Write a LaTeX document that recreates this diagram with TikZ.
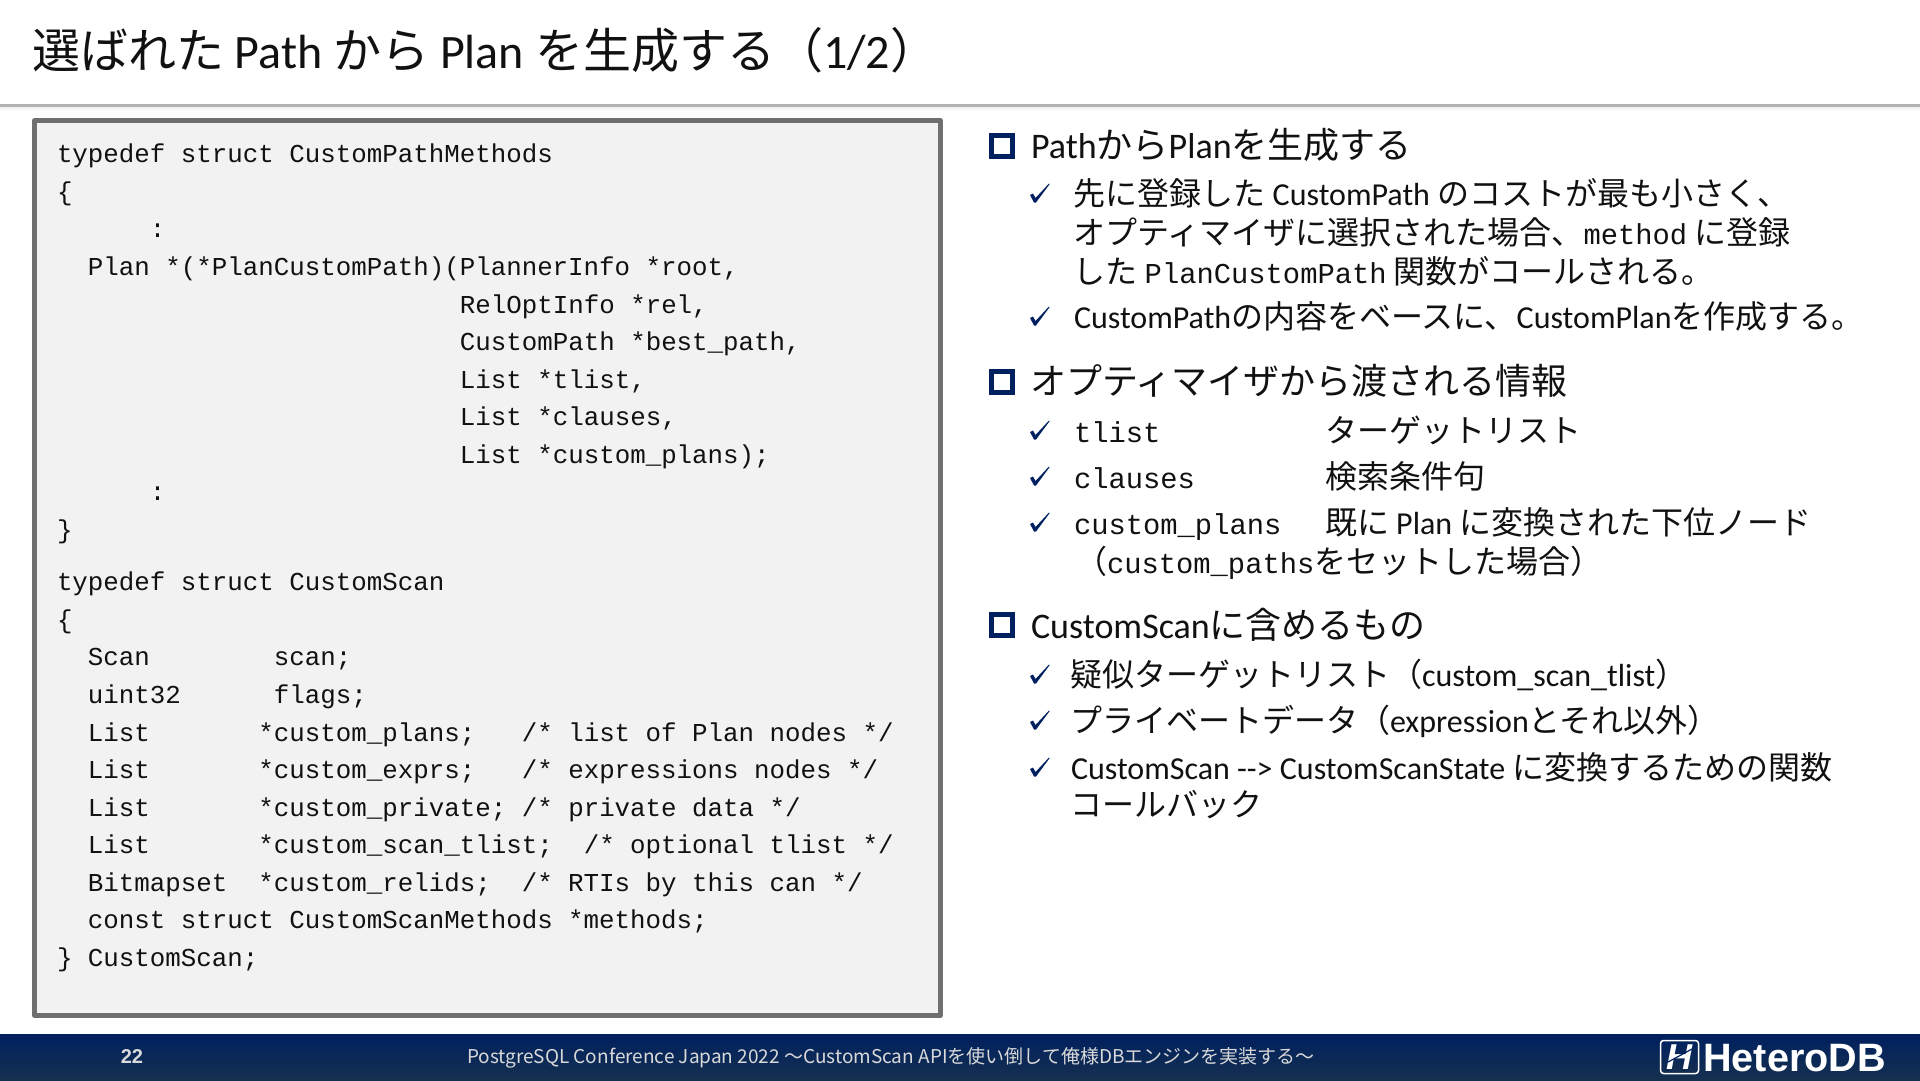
\documentclass[tikz,border=0pt]{standalone}
\usepackage{fontspec}
\setmainfont{Carlito}
\newfontfamily\jpf{Noto Sans CJK JP}
\newfontfamily\monof{Liberation Mono}
\newfontfamily\logof{Liberation Sans}
\newcommand\J[1]{{\jpf #1}}
\newcommand\M[1]{{\monof\fontsize{28.8}{30}\selectfont #1}}
\definecolor{navy}{HTML}{002060}
\definecolor{navyb}{HTML}{15304F}
\definecolor{txt}{HTML}{111111}
\definecolor{boxfill}{HTML}{F2F2F2}
\definecolor{boxline}{HTML}{6F6F6F}
\tikzset{
  tl/.style={anchor=base west,inner sep=0pt,outer sep=0pt,text=txt},
  titletxt/.style={tl,font=\fontsize{48}{50}\selectfont},
  headtxt/.style={tl,font=\fontsize{36}{38}\selectfont},
  subtxt/.style={tl,font=\fontsize{32}{34}\selectfont},
  codetxt/.style={tl,font=\monof\fontsize{25.82}{28}\selectfont},
  footertxt/.style={anchor=base,inner sep=0pt,text=black!15!white},
  sqb/.style={draw=navy,line width=5pt,fill=white},
  chkm/.style={fill=navy,draw=none},
}
\newcommand\sqbul[1]{\draw[sqb] (991.5,#1+2.5) rectangle (1012.5,#1+23.5);}
\newcommand\chk[1]{\fill[chkm,shift={(1040,#1)}] (-10,2)--(-7,0.5)--(-4.5,5)--(9,-9.5)--(9.7,-9)--(-4,9.5)--(-6,9.5)--cycle;}
\begin{document}
\begin{tikzpicture}[x=1pt,y=-1pt]
\useasboundingbox (0,0) rectangle (1920,1080);
\fill[white] (0,0) rectangle (1920,1080);
% header
\shade[top color=black!6,bottom color=white] (0,106.5) rectangle (1920,111);
\fill[black!30] (0,104) rectangle (1920,106.5);
\node[titletxt] (title) at (32,68) {\J{選ばれた} Path \J{から} Plan \J{を生成する（}1/2\J{）}};
% code box
\draw[boxline,fill=boxfill,line width=4.5pt,line join=round] (34.5,120.5) rectangle (940.5,1015.5);
\node[codetxt] (c1) at (57,162.5) {typedef struct CustomPathMethods};
\node[codetxt] (c2) at (57,200) {\{};
\node[codetxt] (c3) at (57,237.6) {~~~~~~:};
\node[codetxt] (c4) at (57,275.5) {~~Plan *(*PlanCustomPath)(PlannerInfo *root,};
\node[codetxt] (c5) at (57,313) {~~~~~~~~~~~~~~~~~~~~~~~~~~RelOptInfo *rel,};
\node[codetxt] (c6) at (57,350.5) {~~~~~~~~~~~~~~~~~~~~~~~~~~CustomPath *best\_path,};
\node[codetxt] (c7) at (57,388) {~~~~~~~~~~~~~~~~~~~~~~~~~~List *tlist,};
\node[codetxt] (c8) at (57,425.6) {~~~~~~~~~~~~~~~~~~~~~~~~~~List *clauses,};
\node[codetxt] (c9) at (57,463.2) {~~~~~~~~~~~~~~~~~~~~~~~~~~List *custom\_plans);};
\node[codetxt] (c10) at (57,500.8) {~~~~~~:};
\node[codetxt] (c11) at (57,538.4) {\}};
\node[codetxt] (d1) at (57,590.6) {typedef struct CustomScan};
\node[codetxt] (d2) at (57,628.2) {\{};
\node[codetxt] (d3) at (57,665.8) {~~Scan~~~~~~~~scan;};
\node[codetxt] (d4) at (57,703.4) {~~uint32~~~~~~flags;};
\node[codetxt] (d5) at (57,741) {~~List~~~~~~~*custom\_plans;~~~/* list of Plan nodes */};
\node[codetxt] (d6) at (57,778.5) {~~List~~~~~~~*custom\_exprs;~~~/* expressions nodes */};
\node[codetxt] (d7) at (57,816) {~~List~~~~~~~*custom\_private; /* private data */};
\node[codetxt] (d8) at (57,853.7) {~~List~~~~~~~*custom\_scan\_tlist;~~/* optional tlist */};
\node[codetxt] (d9) at (57,891) {~~Bitmapset~~*custom\_relids;~~/* RTIs by this can */};
\node[codetxt] (d10) at (57,928.7) {~~const struct CustomScanMethods *methods;};
\node[codetxt] (d11) at (57,966) {\} CustomScan;};
% right column
\sqbul{133}
\node[headtxt] (h1) at (1031,158) {Path\J{から}Plan\J{を生成する}};
\chk{193}
\node[subtxt] (s1) at (1073.5,205) {\J{先に登録した} CustomPath \J{のコストが最も小さく、}};
\node[subtxt] (s2) at (1073.5,244) {\J{オプティマイザに選択された場合、}\M{method} \J{に登録}};
\node[subtxt] (s3) at (1073.5,283) {\J{した} \M{PlanCustomPath} \J{関数がコールされる。}};
\chk{316}
\node[subtxt] (s4) at (1074,328) {CustomPath\J{の内容をベースに、}CustomPlan\J{を作成する。}};
\sqbul{369}
\node[headtxt] (h2) at (1030,394) {\J{オプティマイザから渡される情報}};
\chk{430}
\node[subtxt] (s5) at (1074,442) {\M{tlist}};
\node[subtxt] (s5b) at (1325,442) {\J{ターゲットリスト}};
\chk{476}
\node[subtxt] (s6) at (1074,488) {\M{clauses}};
\node[subtxt] (s6b) at (1325,488) {\J{検索条件句}};
\chk{522}
\node[subtxt] (s7) at (1074,534) {\M{custom\_plans}};
\node[subtxt] (s7b) at (1325,534) {\J{既に} Plan \J{に変換された下位ノード}};
\node[subtxt] (s8) at (1075,573) {\J{（}\M{custom\_paths}\J{をセットした場合）}};
\sqbul{612}
\node[headtxt] (h3) at (1031,638) {CustomScan\J{に含めるもの}};
\chk{674}
\node[subtxt] (s9) at (1070,686) {\J{疑似ターゲットリスト（}custom\_scan\_tlist\J{）}};
\chk{720}
\node[subtxt] (s10) at (1070,732) {\J{プライベートデータ（}expression\J{とそれ以外）}};
\chk{767}
\node[subtxt] (s11) at (1071,779) {CustomScan -{}-> CustomScanState \J{に変換するための関数}};
\node[subtxt] (s12) at (1070,816) {\J{コールバック}};
% footer
\shade[top color=navy,bottom color=navyb] (0,1034) rectangle (1920,1080);
\node[footertxt,font=\logof\bfseries\fontsize{20}{22}\selectfont] (pg) at (132,1063) {22};
\node[footertxt,font=\jpf\fontsize{19}{22}\selectfont] (ft) at (891,1063) {PostgreSQL Conference Japan 2022 ～CustomScan APIを使い倒して俺様DBエンジンを実装する～};
\draw[white,line width=1.5pt,rounded corners=3pt] (1660.5,1040.5) rectangle (1698.5,1073.5);
\node[anchor=center,inner sep=0pt,text=white,font=\logof\bfseries\itshape\fontsize{36}{36}\selectfont] (lg) at (1679,1057) {H};
\draw[navy,line width=1.2pt] (1668,1062) -- (1692,1049);
\node[anchor=base west,inner sep=0pt,text=white,font=\logof\bfseries\fontsize{39.6}{40}\selectfont] (logo) at (1703,1071) {HeteroDB};
\end{tikzpicture}
\end{document}
